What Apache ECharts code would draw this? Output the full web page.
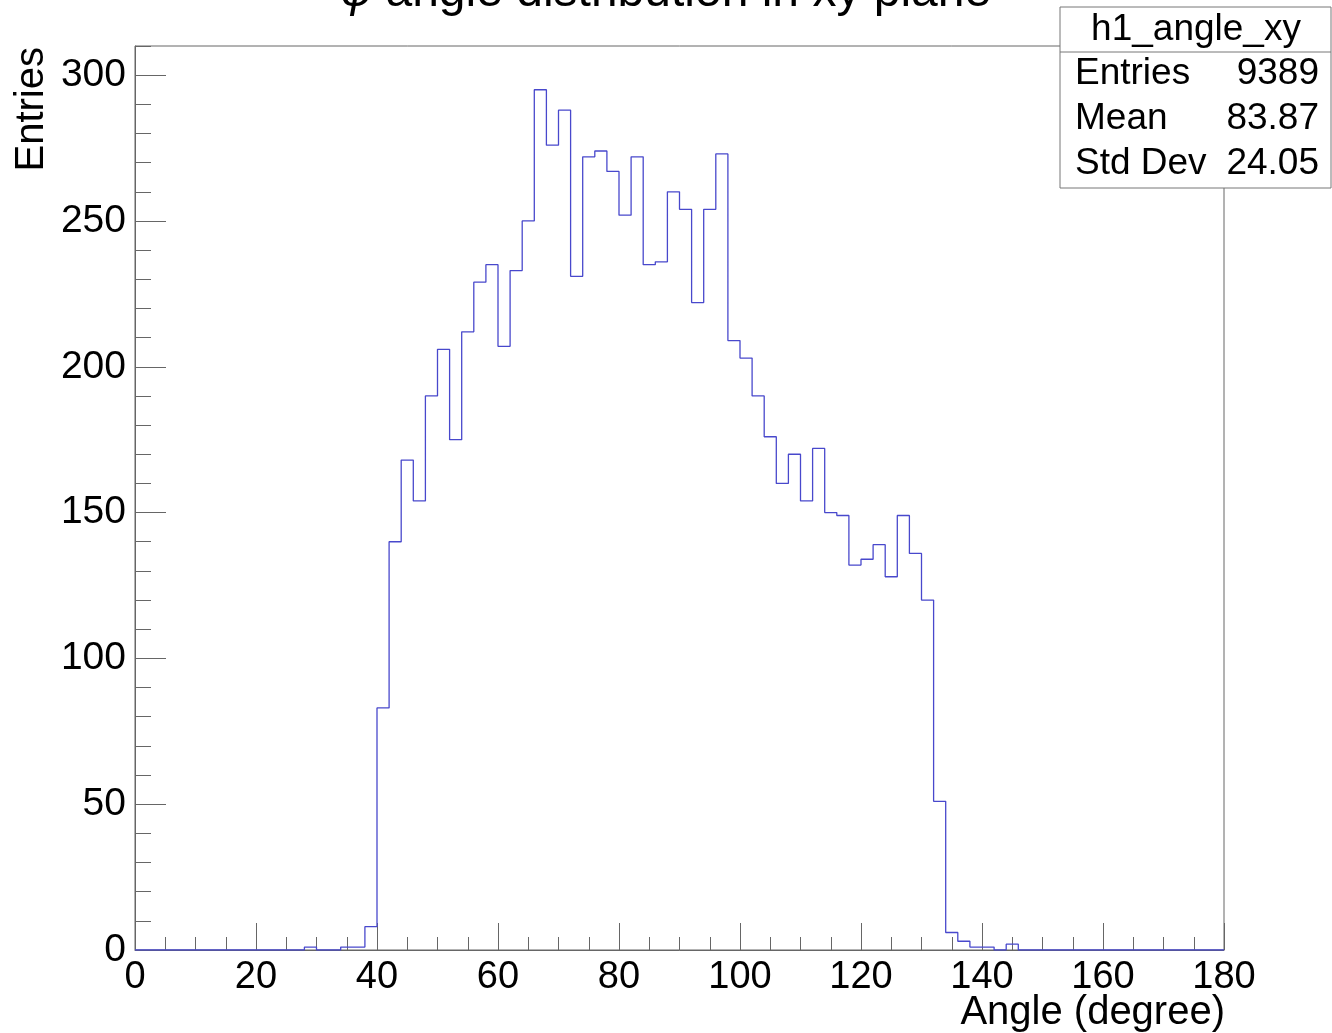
<!DOCTYPE html>
<html>
<head>
    <meta charset="utf-8">
    <script src="https://cdn.jsdelivr.net/npm/echarts@6/dist/echarts.min.js"></script>
    <style>
        html, body { margin: 0; padding: 0; background: #fff; }
    </style>
</head>
<body>
    <div id="main" style="width: 1332px;height:1033px;"></div>
    <script type="text/javascript">
        // histogram h1_angle_xy : 90 bins of 2 degrees, 0 - 180
        var binStart = 0;
        var binWidth = 2;
        var binValues = [
            0, 0, 0, 0, 0, 0, 0, 0, 0, 0,
            0, 0, 0, 0, 1, 0, 0, 1, 1, 8,
            83, 140, 168, 154, 190, 206, 175, 212, 229, 235,
            207, 233, 250, 295, 276, 288, 231, 272, 274, 267,
            252, 272, 235, 236, 260, 254, 222, 254, 273, 209,
            203, 190, 176, 160, 170, 154, 172, 150, 149, 132,
            134, 139, 128, 149, 136, 120, 51, 6, 3, 1,
            1, 0, 2, 0, 0, 0, 0, 0, 0, 0,
            0, 0, 0, 0, 0, 0, 0, 0, 0, 0
        ];
        var xMajorTicks = [0, 20, 40, 60, 80, 100, 120, 140, 160, 180];
        var yMajorTicks = [0, 50, 100, 150, 200, 250, 300];

        var histName = 'h1_angle_xy';
        var statNames = ['Entries', 'Mean', 'Std Dev'];
        var statValues = ['9389', '83.87', '24.05'];

        var font = "'Liberation Sans', Arial, sans-serif";
        var frameColor = '#666';

        // step points from bin edges
        var points = binValues.map(function (v, i) {
            return [binStart + i * binWidth, v];
        });
        points.push([binStart + binValues.length * binWidth, binValues[binValues.length - 1]]);

        var statGraphics = [
            {
                type: 'rect',
                shape: {x: 1060, y: 7, width: 271, height: 181},
                style: {fill: '#fff', stroke: '#777', lineWidth: 1},
                z: 10
            },
            {
                type: 'line',
                shape: {x1: 1060, y1: 52, x2: 1331, y2: 52},
                style: {stroke: '#777', lineWidth: 1},
                z: 11
            },
            {
                type: 'text',
                x: 1196, y: 30,
                style: {text: histName, font: '37px ' + font, fill: '#000', textAlign: 'center', textVerticalAlign: 'middle'},
                z: 11
            }
        ];
        statNames.forEach(function (name, i) {
            var yy = 74 + i * 45;
            statGraphics.push({
                type: 'text',
                x: 1075, y: yy,
                style: {text: name, font: '37px ' + font, fill: '#000', textAlign: 'left', textVerticalAlign: 'middle'},
                z: 11
            });
            statGraphics.push({
                type: 'text',
                x: 1319, y: yy,
                style: {text: statValues[i], font: '37px ' + font, fill: '#000', textAlign: 'right', textVerticalAlign: 'middle'},
                z: 11
            });
        });

        option = {
            animation: false,
            backgroundColor: '#fff',
            title: {
                text: '{phi|φ} angle distribution in xy plane',
                left: 'center',
                top: -31,
                padding: 0,
                textStyle: {
                    fontFamily: font,
                    fontSize: 48,
                    fontWeight: 'normal',
                    color: '#000',
                    rich: {
                        phi: {fontFamily: font, fontSize: 48, fontStyle: 'italic', color: '#000'}
                    }
                }
            },
            grid: {
                left: 135,
                right: 108,
                top: 46,
                bottom: 83,
                show: true,
                borderColor: frameColor,
                borderWidth: 1,
                backgroundColor: '#fff'
            },
            xAxis: [
                {
                    type: 'value',
                    min: 0,
                    max: 180,
                    interval: 5,
                    axisLine: {onZero: false, lineStyle: {color: frameColor, width: 1}},
                    axisTick: {inside: true, length: 13, lineStyle: {color: frameColor}},
                    splitLine: {show: false},
                    axisLabel: {
                        margin: 9,
                        fontFamily: font,
                        fontSize: 38,
                        color: '#000',
                        formatter: function (v) { return xMajorTicks.indexOf(v) >= 0 ? String(v) : ''; }
                    }
                },
                {
                    type: 'value',
                    position: 'bottom',
                    min: 0,
                    max: 180,
                    interval: 20,
                    axisLine: {show: false, onZero: false},
                    axisTick: {inside: true, length: 27, lineStyle: {color: frameColor}},
                    splitLine: {show: false},
                    axisLabel: {show: false}
                }
            ],
            yAxis: [
                {
                    type: 'value',
                    min: 0,
                    max: 310,
                    interval: 10,
                    axisLine: {show: true, onZero: false, lineStyle: {color: frameColor, width: 1}},
                    axisTick: {inside: true, length: 16, lineStyle: {color: frameColor}},
                    splitLine: {show: false},
                    axisLabel: {
                        margin: 9,
                        fontFamily: font,
                        fontSize: 39,
                        color: '#000',
                        formatter: function (v) { return yMajorTicks.indexOf(v) >= 0 ? String(v) : ''; }
                    }
                },
                {
                    type: 'value',
                    position: 'left',
                    min: 0,
                    max: 310,
                    interval: 50,
                    axisLine: {show: false, onZero: false},
                    axisTick: {inside: true, length: 31, lineStyle: {color: frameColor}, customValues: yMajorTicks},
                    splitLine: {show: false},
                    axisLabel: {show: false}
                }
            ],
            graphic: [
                {
                    type: 'text',
                    x: 32, y: 47,
                    rotation: Math.PI / 2,
                    style: {text: 'Entries', font: '40px ' + font, fill: '#000', textAlign: 'right', textVerticalAlign: 'middle'}
                },
                {
                    type: 'text',
                    x: 1225, y: 1013,
                    style: {text: 'Angle (degree)', font: '40px ' + font, fill: '#000', textAlign: 'right', textVerticalAlign: 'middle'}
                }
            ].concat(statGraphics),
            series: [
                {
                    name: histName,
                    type: 'line',
                    xAxisIndex: 0,
                    yAxisIndex: 0,
                    step: 'end',
                    showSymbol: false,
                    symbol: 'none',
                    lineStyle: {color: '#4848cc', width: 1.3},
                    data: points
                }
            ]
        };

        var myChart = echarts.init(document.getElementById('main'));
        myChart.setOption(option);
    </script>
</body>
</html>
